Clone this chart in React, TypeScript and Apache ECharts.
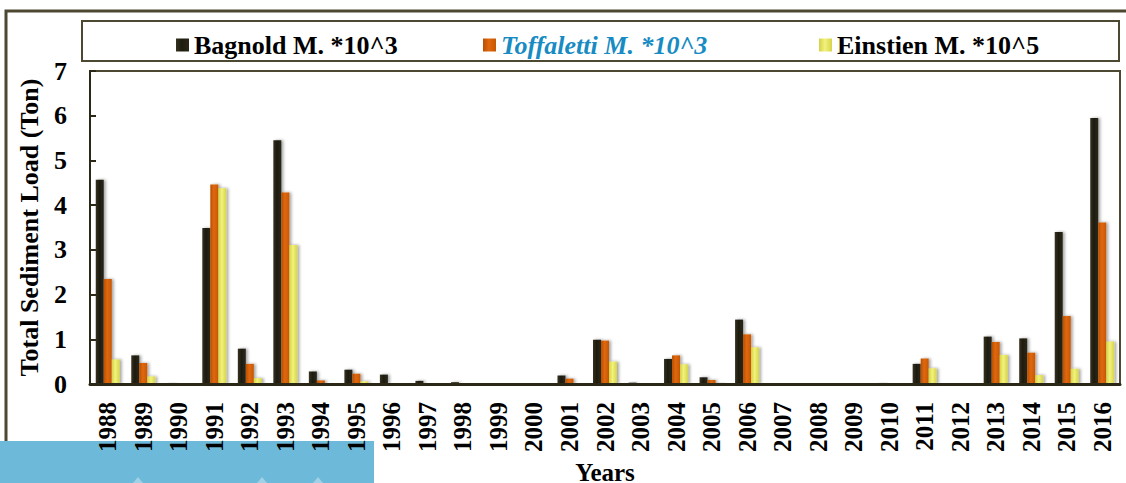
import React, { useEffect, useRef } from "react";
import * as echarts from "echarts";

const years = [
  "1988", "1989", "1990", "1991", "1992", "1993", "1994", "1995", "1996", "1997",
  "1998", "1999", "2000", "2001", "2002", "2003", "2004", "2005", "2006", "2007",
  "2008", "2009", "2010", "2011", "2012", "2013", "2014", "2015", "2016",
];

const bagnold = [
  4.57, 0.64, 0.02, 3.49, 0.79, 5.45, 0.28, 0.32, 0.21, 0.07,
  0.04, 0, 0, 0.19, 0.99, 0.03, 0.56, 0.15, 1.44, 0,
  0, 0, 0.02, 0.45, 0, 1.06, 1.02, 3.4, 5.95,
];

const toffaletti = [
  2.35, 0.47, 0, 4.46, 0.45, 4.28, 0.08, 0.23, 0, 0,
  0, 0, 0, 0.12, 0.97, 0, 0.64, 0.09, 1.11, 0,
  0, 0, 0, 0.57, 0, 0.94, 0.7, 1.52, 3.61,
];

const einstien = [
  0.55, 0.17, 0, 4.38, 0.13, 3.11, 0.01, 0.06, 0, 0,
  0, 0, 0, 0, 0.5, 0, 0.44, 0.02, 0.82, 0,
  0, 0, 0, 0.35, 0, 0.65, 0.2, 0.34, 0.95,
];

const yTicks = { min: 0, max: 7, interval: 1 };

const FONT = "'Liberation Serif', 'Times New Roman', serif";
const FRAME = "#4d4832";

const hGrad = (a: string, b: string, c: string) =>
  new echarts.graphic.LinearGradient(0, 0, 1, 0, [
    { offset: 0, color: a },
    { offset: 0.45, color: b },
    { offset: 1, color: c },
  ]);

const barShadow = {
  shadowColor: "rgba(0,0,0,0.35)",
  shadowBlur: 3,
  shadowOffsetX: 2,
  shadowOffsetY: 0,
};

const legendText = {
  fontFamily: FONT,
  fontSize: 26,
  fontWeight: "bold" as const,
  color: "#000",
};

function makeLegend(name: string, left: number, textStyle: any) {
  return {
    data: [name],
    left,
    top: 27,
    itemWidth: 13,
    itemHeight: 13,
    itemGap: 0,
    icon: "rect",
    textStyle: { ...legendText, ...textStyle },
    selectedMode: false,
  };
}

export default function App() {
  const ref = useRef<HTMLDivElement>(null);

  useEffect(() => {
    if (!ref.current) return;
    const chart = echarts.init(ref.current, undefined, { renderer: "svg" });

    chart.setOption({
      animation: false,
      backgroundColor: "#ffffff",
      legend: [
        makeLegend("Bagnold M. *10^3", 171, {}),
        makeLegend("Toffaletti M. *10^3", 478, { fontStyle: "italic", color: "#178bc2" }),
        makeLegend("Einstien M. *10^5", 814, {}),
      ],
      grid: {
        left: 90,
        right: 6,
        top: 71,
        bottom: 99,
        outerBoundsMode: "none",
        containLabel: false,
        show: true,
        borderColor: FRAME,
        borderWidth: 2,
        backgroundColor: "#ffffff",
      },
      xAxis: {
        type: "category",
        data: years,
        z: 5,
        name: "Years",
        nameLocation: "middle",
        nameGap: 83,
        nameTextStyle: {
          fontFamily: FONT,
          fontSize: 25,
          fontWeight: "bold",
          color: "#000",
          verticalAlign: "middle",
          lineHeight: 22,
        },
        axisLine: { lineStyle: { color: "#2b2818", width: 3 } },
        axisTick: {
          inside: true,
          alignWithLabel: true,
          length: 5,
          lineStyle: { color: "#2b2818", width: 3 },
        },
        axisLabel: {
          rotate: 90,
          margin: 18,
          interval: 0,
          fontFamily: FONT,
          fontSize: 25,
          fontWeight: "bold",
          color: "#000",
        },
      },
      yAxis: {
        type: "value",
        min: yTicks.min,
        max: yTicks.max,
        interval: yTicks.interval,
        name: "Total Sediment Load (Ton)",
        nameLocation: "middle",
        nameGap: 48,
        nameTextStyle: { fontFamily: FONT, fontSize: 26, fontWeight: "bold", color: "#000" },
        axisLine: { show: true, lineStyle: { color: "#2b2818", width: 2 } },
        axisTick: { show: true, inside: true, length: 6, lineStyle: { color: "#2b2818", width: 2 } },
        splitLine: { show: false },
        axisLabel: {
          margin: 23,
          fontFamily: FONT,
          fontSize: 26,
          fontWeight: "bold",
          color: "#000",
        },
      },
      series: [
        {
          name: "Bagnold M. *10^3",
          type: "bar",
          data: bagnold,
          barWidth: 8,
          barGap: "0%",
          itemStyle: { color: hGrad("#35311f", "#1e1b10", "#2a2717"), ...barShadow },
        },
        {
          name: "Toffaletti M. *10^3",
          type: "bar",
          data: toffaletti,
          barWidth: 8,
          barGap: "0%",
          itemStyle: { color: hGrad("#b94f02", "#e0680c", "#c75704"), ...barShadow },
        },
        {
          name: "Einstien M. *10^5",
          type: "bar",
          data: einstien,
          barWidth: 8,
          barGap: "0%",
          itemStyle: { color: hGrad("#d2d247", "#f3f27c", "#d6d44a"), ...barShadow },
        },
      ],
      graphic: [
        // outer frame, left and top edges (left edge stops at the blue strip)
        {
          type: "polyline",
          shape: { points: [[6, 441], [6, 11], [1126, 11]] },
          style: { stroke: FRAME, lineWidth: 3, fill: "none" },
          z: 10,
        },
        // legend box
        {
          type: "rect",
          shape: { x: 82, y: 21, width: 1037, height: 40 },
          style: { stroke: FRAME, lineWidth: 2, fill: "none" },
          z: 10,
        },
        // blue strip at the lower left, beneath the year labels
        {
          type: "group",
          z: -10,
          children: [
            {
              type: "rect",
              shape: { x: 0, y: 441, width: 374, height: 42 },
              style: { fill: "#6db9d9" },
              z: -10,
            },
            {
              type: "polygon",
              shape: { points: [[133, 483], [138, 477], [143, 483]] },
              style: { fill: "rgba(255,255,255,0.35)" },
              z: -9,
            },
            {
              type: "polygon",
              shape: { points: [[257, 483], [262, 477], [267, 483]] },
              style: { fill: "rgba(255,255,255,0.35)" },
              z: -9,
            },
            {
              type: "polygon",
              shape: { points: [[313, 483], [318, 477], [323, 483]] },
              style: { fill: "rgba(255,255,255,0.35)" },
              z: -9,
            },
          ],
        },
      ],
    });

    return () => chart.dispose();
  }, []);

  return (
    <div
      ref={ref}
      style={{ position: "fixed", left: 0, top: 0, width: 1126, height: 483 }}
    />
  );
}
